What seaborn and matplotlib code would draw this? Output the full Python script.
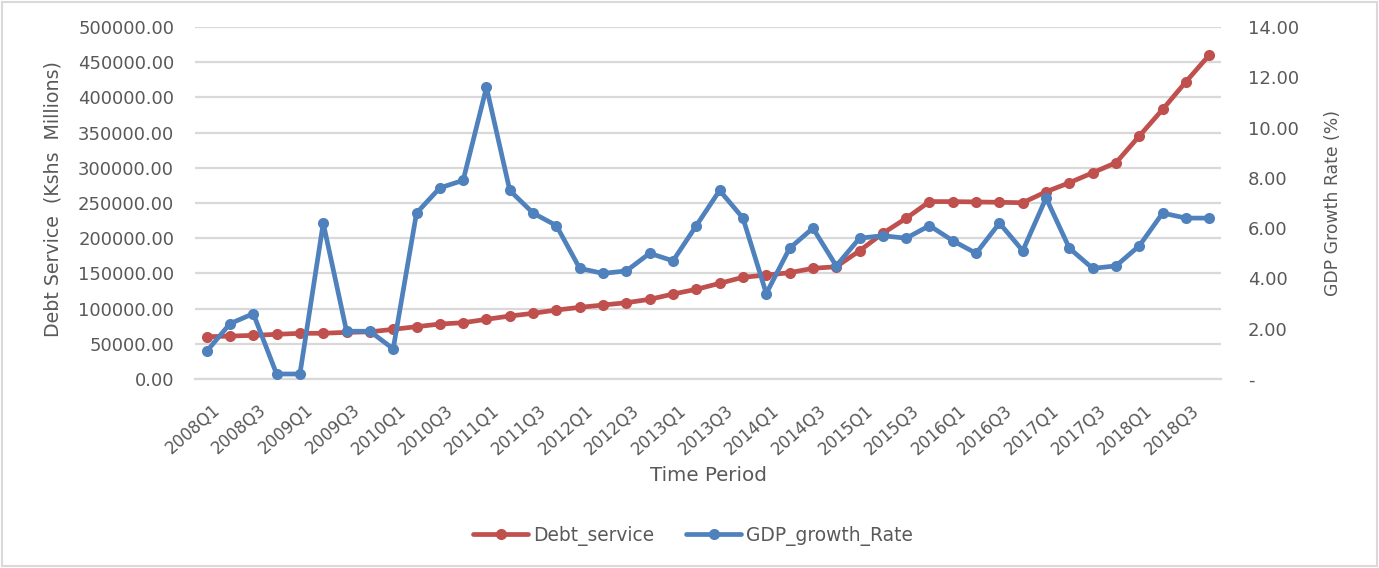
import numpy as np
import pandas as pd
import matplotlib
matplotlib.use("Agg")
import matplotlib.pyplot as plt
import matplotlib.transforms as mtransforms
import seaborn as sns
from matplotlib.ticker import FuncFormatter, MultipleLocator
from matplotlib.lines import Line2D
from matplotlib.patches import Rectangle

quarters = [f"{y}Q{q}" for y in range(2008, 2019) for q in range(1, 5)]
debt_service = [60000, 61000, 62000, 63500, 64900, 65000, 66300, 67000, 70600, 74300,
                78100, 80000, 84800, 89500, 93300, 98000, 101800, 105100, 108400, 113200,
                120700, 127400, 135900, 144500, 147700, 151000, 157200, 159500, 182200, 207000,
                228300, 252000, 252000, 251500, 251000, 250400, 266000, 278800, 293000, 307300,
                345200, 383000, 422300, 460200]
gdp_growth = [1.1, 2.2, 2.6, 0.2, 0.2, 6.2, 1.9, 1.9, 1.2, 6.6,
              7.6, 7.9, 11.6, 7.5, 6.6, 6.1, 4.4, 4.2, 4.3, 5.0,
              4.7, 6.1, 7.5, 6.4, 3.4, 5.2, 6.0, 4.5, 5.6, 5.7,
              5.6, 6.1, 5.5, 5.0, 6.2, 5.1, 7.2, 5.2, 4.4, 4.5,
              5.3, 6.6, 6.4, 6.4]
tick_labels = quarters[::2]

RED = "#C0504D"
BLUE = "#4F81BD"
TXT = "#595959"
GRID = "#D9D9D9"

sns.set_theme(style="white")
plt.rcParams["font.family"] = ["DejaVu Sans"]

df = pd.DataFrame({"idx": np.arange(len(quarters)), "quarter": quarters,
                   "Debt_service": debt_service, "GDP_growth_Rate": gdp_growth})

fig = plt.figure(figsize=(13.79, 5.68), dpi=100)
fig.patch.set_facecolor("white")
fig.patches.append(Rectangle((0.0015, 0.003), 0.997, 0.994, transform=fig.transFigure,
                             fill=False, edgecolor=GRID, linewidth=1.5))
ax = fig.add_axes([0.1414, 0.3327, 0.7440, 0.6198])
ax2 = ax.twinx()

lw = 3.4
ms = 8
sns.lineplot(data=df, x="idx", y="Debt_service", ax=ax, color=RED, linewidth=lw,
             marker="o", markersize=ms, markeredgewidth=0, zorder=3)
sns.lineplot(data=df, x="idx", y="GDP_growth_Rate", ax=ax2, color=BLUE, linewidth=lw,
             marker="o", markersize=ms, markeredgewidth=0, zorder=3)

n = len(quarters)
ax.set_xlim(-0.5, n - 0.5)
ax.set_ylim(0, 500000)
ax2.set_ylim(0, 14)
ax.yaxis.set_major_locator(MultipleLocator(50000))
ax2.yaxis.set_major_locator(MultipleLocator(2))
ax.yaxis.set_major_formatter(FuncFormatter(lambda v, p: f"{v:.2f}"))
ax2.yaxis.set_major_formatter(FuncFormatter(lambda v, p: "-" if abs(v) < 1e-9 else f"{v:.2f}"))

ax.set_xticks(np.arange(0, n, 2))
ax.set_xticklabels(tick_labels, rotation=41, ha="right", rotation_mode="anchor")

ax.grid(axis="y", color=GRID, linewidth=1.6)
ax.set_axisbelow(True)
for a in (ax, ax2):
    for s in a.spines.values():
        s.set_visible(False)
    a.tick_params(length=0, colors=TXT)
ax.spines["bottom"].set_visible(True)
ax.spines["bottom"].set_color(GRID)
ax.spines["bottom"].set_linewidth(1.6)

ax.tick_params(axis="y", pad=15, labelsize=13)
ax2.tick_params(axis="y", pad=19.5, labelsize=13)
ax.tick_params(axis="x", pad=16, labelsize=12)
offset = mtransforms.ScaledTranslation(5 / 100, 0, fig.dpi_scale_trans)
for t in ax.get_xticklabels():
    t.set_transform(t.get_transform() + offset)

ax.set_xlabel("Time Period", fontsize=14.3, color=TXT)
ax.set_ylabel("Debt Service  (Kshs  Millions)", fontsize=13.7, color=TXT)
ax2.set_ylabel("GDP Growth Rate (%)", fontsize=12.4, color=TXT)
for lab in (ax.xaxis.label, ax.yaxis.label, ax2.yaxis.label):
    lab.set_rotation_mode("anchor")
    lab.set_verticalalignment("center")
    lab.set_horizontalalignment("center")
ax.xaxis.set_label_coords(0.5, -0.275)
ax.yaxis.set_label_coords((53 - 195) / 1026, 0.51)
ax2.yaxis.set_label_coords((1333 - 195) / 1026, 0.5)

handles = [Line2D([], [], color=RED, linewidth=lw, marker="o", markersize=ms, markeredgewidth=0),
           Line2D([], [], color=BLUE, linewidth=lw, marker="o", markersize=ms, markeredgewidth=0)]
fig.legend(handles, ["Debt_service", "GDP_growth_Rate"], loc="center",
           bbox_to_anchor=(693 / 1379, 1 - 536 / 568), ncol=2, frameon=False, fontsize=13.4,
           handlelength=2.95, handletextpad=0.25, columnspacing=1.75, labelcolor=TXT)

fig.savefig("out.png", dpi=100, facecolor="white")
